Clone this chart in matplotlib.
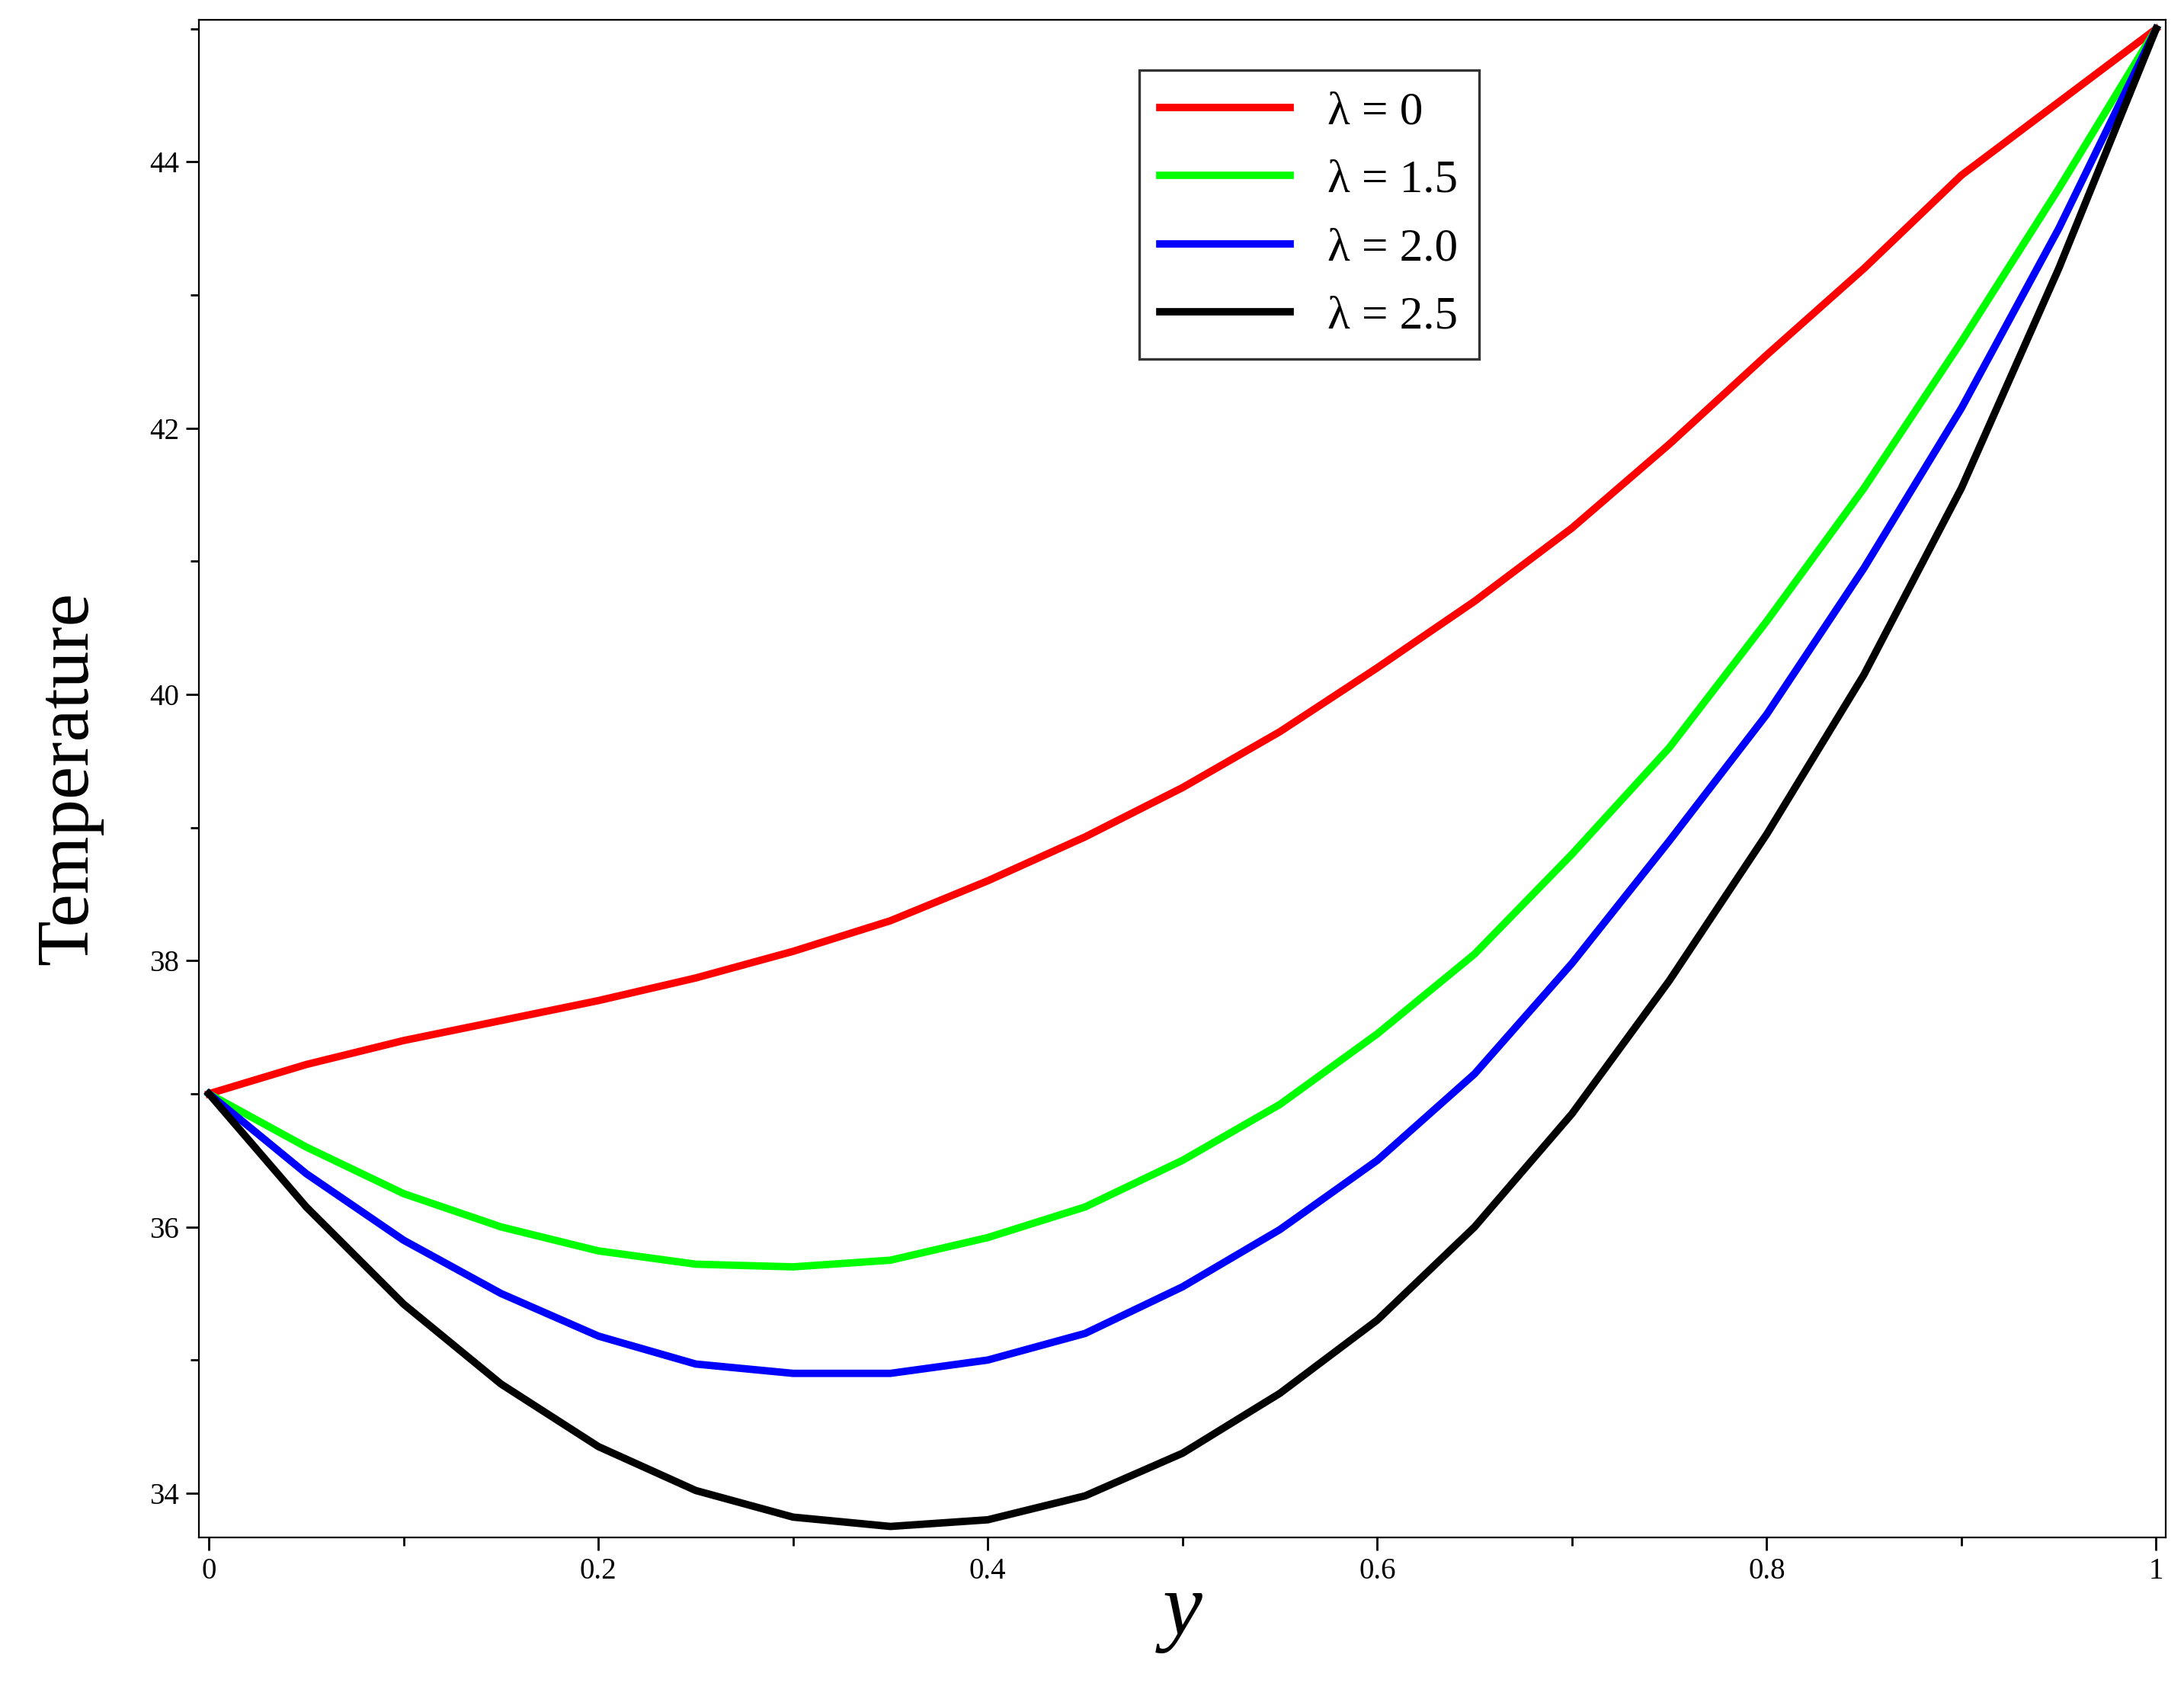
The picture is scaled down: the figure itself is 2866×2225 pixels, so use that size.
import matplotlib
matplotlib.use("Agg")
import matplotlib.pyplot as plt
from matplotlib.ticker import MultipleLocator

x = [0,0.05,0.1,0.15,0.2,0.25,0.3,0.35,0.4,0.45,0.5,0.55,0.6,0.65,0.7,0.75,0.8,0.85,0.9,0.95,1.0]
red   = [37,37.22,37.4,37.55,37.7,37.87,38.07,38.3,38.6,38.93,39.3,39.72,40.2,40.7,41.25,41.88,42.55,43.2,43.9,44.45,45]
green = [37,36.6,36.25,36.0,35.82,35.72,35.7,35.75,35.92,36.15,36.5,36.92,37.45,38.05,38.8,39.6,40.55,41.55,42.65,43.8,45]
blue  = [37,36.4,35.9,35.5,35.18,34.97,34.9,34.9,35.0,35.2,35.55,35.98,36.5,37.15,37.98,38.9,39.85,40.95,42.15,43.5,45]
black = [37,36.15,35.42,34.82,34.35,34.02,33.82,33.75,33.8,33.98,34.3,34.75,35.3,36.0,36.85,37.85,38.95,40.15,41.55,43.2,45]
labels = ["λ = 0","λ = 1.5","λ = 2.0","λ = 2.5"]
colors = ["#ff0000","#00ff00","#0000ff","#000000"]

plt.rcParams['font.family'] = ['Liberation Serif','DejaVu Serif']
fig = plt.figure(figsize=(14.33,11.125), dpi=200)
ax = fig.add_axes([0.0912,0.0937,0.9005,0.8948])
for ys,l,c in zip([red,green,blue,black],labels,colors):
    ax.plot(x,ys,color=c,lw=3.5,label=l)
ax.set_xlim(-0.005,1.005)
ax.set_ylim(33.67,45.07)
ax.xaxis.set_minor_locator(MultipleLocator(0.1))
ax.yaxis.set_major_locator(MultipleLocator(2))
ax.yaxis.set_minor_locator(MultipleLocator(1))
ax.set_xticks([0,0.2,0.4,0.6,0.8,1.0])
ax.set_xticklabels(["0","0.2","0.4","0.6","0.8","1"])
ax.tick_params(labelsize=14, direction='out', length=6, width=1)
ax.tick_params(which='minor', direction='out', length=4, width=1)
ax.set_ylabel("Temperature", fontsize=35, labelpad=22)
ax.set_xlabel("y", fontsize=42, style='italic', labelpad=-6)
leg = ax.legend(loc='upper left', bbox_to_anchor=(0.466,0.982), fontsize=22,
                frameon=True, fancybox=False, edgecolor='black', handlelength=2.8,
                labelspacing=0.55, borderpad=0.45)
leg.get_frame().set_linewidth(1.2)
fig.savefig("out.png", dpi=200)
